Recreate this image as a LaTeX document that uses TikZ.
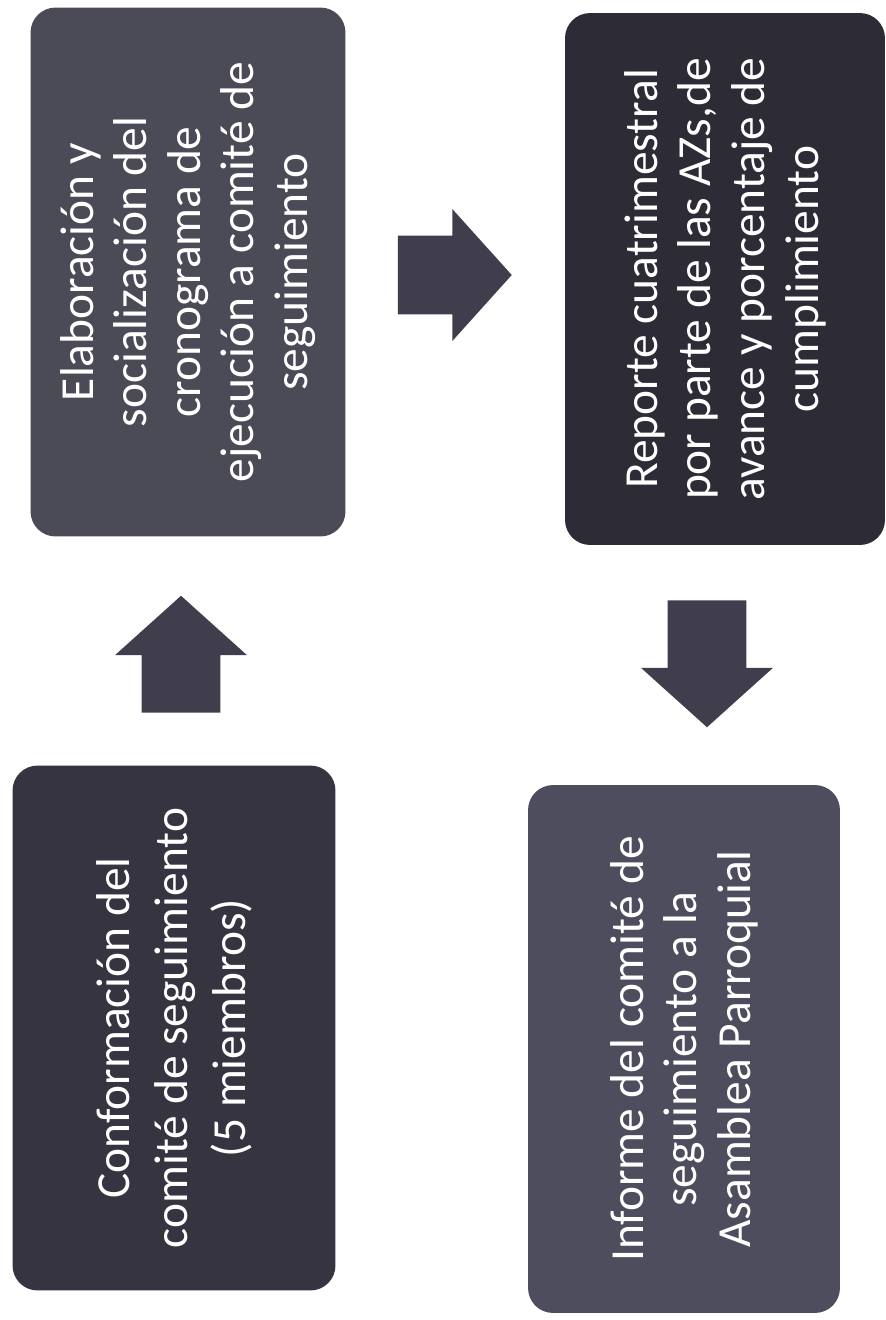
\documentclass[tikz,border=0pt]{standalone}
\usepackage{fontspec}
\setmainfont{Carlito}
\usetikzlibrary{shapes.arrows}
\definecolor{elabfill}{HTML}{4B4A57}
\definecolor{repfill}{HTML}{2C2B36}
\definecolor{conffill}{HTML}{363441}
\definecolor{infofill}{HTML}{4E4D5D}
\definecolor{arrowfill}{HTML}{403E4C}
\begin{document}
\begin{tikzpicture}[
  x=0.02cm, y=-0.02cm,
  box/.style={rotate=90, rounded corners=0.5cm, align=center, text=white, inner sep=0pt,
    font=\fontsize{27}{30.5}\selectfont},
  blockarrow/.style={single arrow, fill=arrowfill, inner xsep=0pt, inner ysep=0.78cm,
    minimum width=2.64cm, single arrow head extend=0.53cm, single arrow tip angle=96}
]
\useasboundingbox (0,0) rectangle (886,1320);
\node[box, fill=elabfill, minimum width=10.58cm, minimum height=6.3cm] (elab) at (188,272)
  {Elaboración y\\socialización del\\cronograma de\\ejecución a comité de\\seguimiento};
\node[box, fill=repfill, minimum width=10.64cm, minimum height=6.4cm] (rep) at (725,279)
  {Reporte cuatrimestral\\por parte de las AZs,de\\avance y porcentaje de\\cumplimiento};
\node[box, fill=conffill, minimum width=10.5cm, minimum height=6.46cm,
  font=\fontsize{27}{33}\selectfont] (conf) at (174,1028)
  {Conformación del\\comité de seguimiento\\(5 miembros)};
\node[box, fill=infofill, minimum width=10.56cm, minimum height=6.24cm] (info) at (684,1049)
  {Informe del comité de\\seguimiento a la\\Asamblea Parroquial};
% block arrows between the steps
\node[blockarrow, rotate=90, minimum height=2.34cm] (up) at (181,672) {};
\node[blockarrow, minimum height=2.28cm] (right) at (437,275) {};
\node[blockarrow, rotate=-90, minimum height=2.54cm] (down) at (707,646) {};
\end{tikzpicture}
\end{document}
